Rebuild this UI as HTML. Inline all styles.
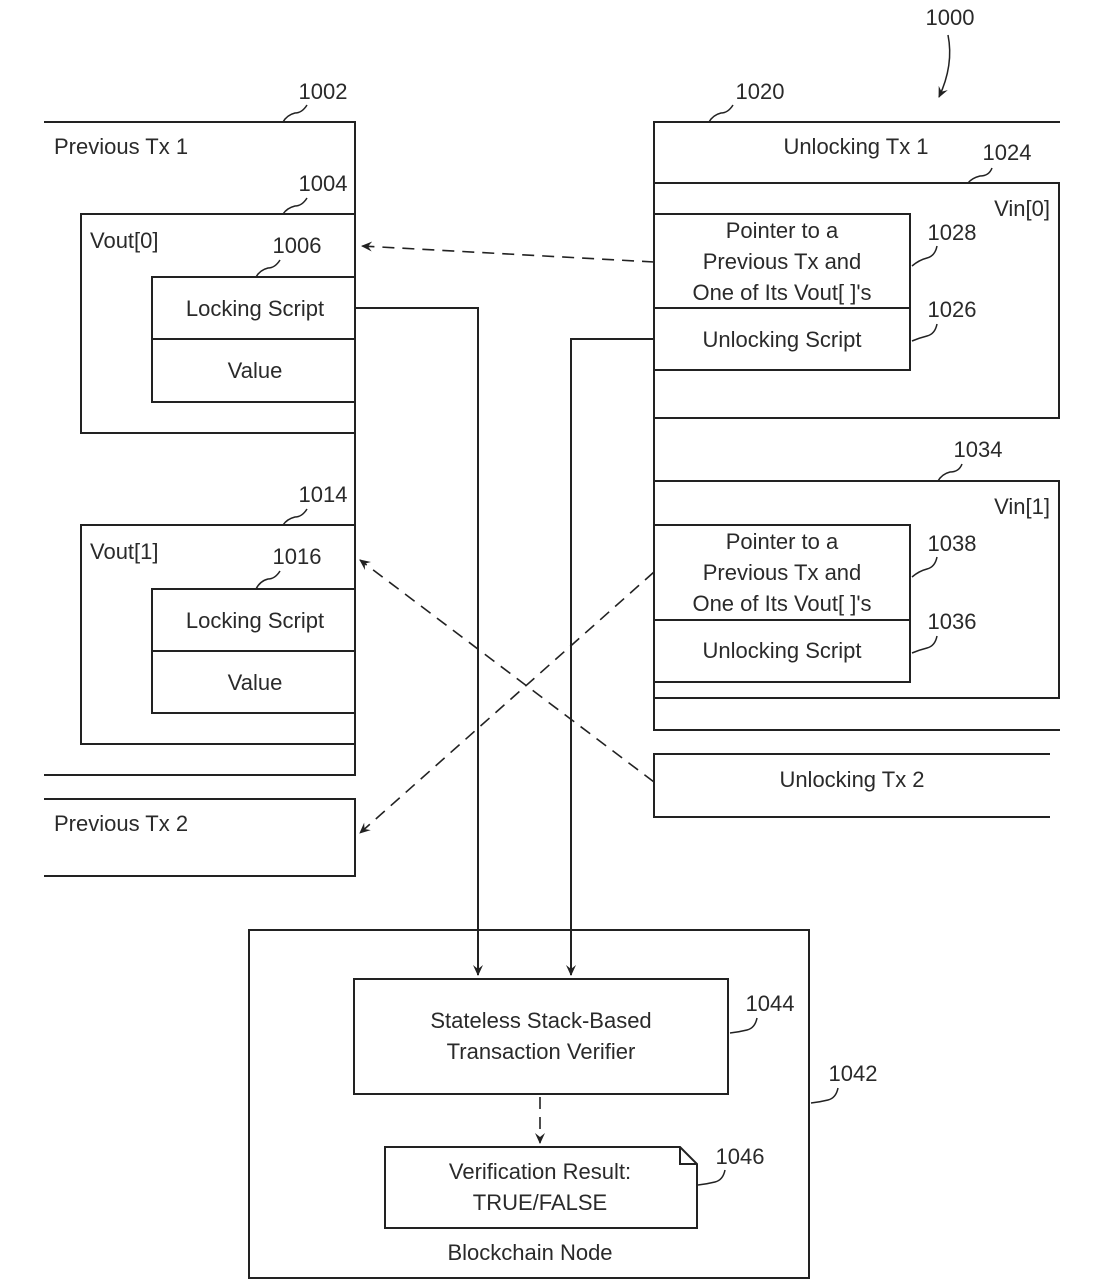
<!DOCTYPE html>
<html><head><meta charset="utf-8"><style>
body{margin:0;background:#fff}
svg{display:block}
text{font-family:"Liberation Sans",sans-serif;font-size:22px;fill:#2a2a2a}
</style></head><body>
<svg width="1106" height="1286" viewBox="0 0 1106 1286" xmlns="http://www.w3.org/2000/svg">
<defs>
<marker id="a" markerWidth="12" markerHeight="12" refX="10" refY="6" orient="auto" markerUnits="userSpaceOnUse">
<path d="M0,1 L11,6 L0,11 L4,6 Z" fill="#222"/></marker>
</defs>
<g fill="none" stroke="#222" stroke-width="2">
<!-- Previous Tx 1 -->
<path d="M44,122 H355 V775 H44"/>
<rect x="81" y="214" width="274" height="219"/>
<rect x="152" y="277" width="203" height="125"/><path d="M152,339 H355"/>
<rect x="81" y="525" width="274" height="219"/>
<rect x="152" y="589" width="203" height="124"/><path d="M152,651 H355"/>
<path d="M44,799 H355 V876 H44"/>
<!-- Unlocking Tx 1 -->
<path d="M1060,122 H654 V730 H1060"/>
<path d="M654,183 H1059 V418 H654"/>
<rect x="654" y="214" width="256" height="156"/><path d="M654,308 H910"/>
<path d="M654,481 H1059 V698 H654"/>
<rect x="654" y="525" width="256" height="157"/><path d="M654,620 H910"/>
<path d="M1050,754 H654 V817 H1050"/>
<!-- Node -->
<rect x="249" y="930" width="560" height="348"/>
<rect x="354" y="979" width="374" height="115"/>
<path d="M385,1147 H680 L697,1164 V1228 H385 Z M680,1147 V1164 H697"/>
<!-- solid connectors -->
<path d="M355,308 H478 V975" marker-end="url(#a)"/>
<path d="M654,339 H571 V975" marker-end="url(#a)"/>
<!-- dashed connectors -->
<g stroke-dasharray="12,8" stroke-width="1.6">
<path d="M654,262 L362,246" marker-end="url(#a)"/>
<path d="M654,572 L360,833" marker-end="url(#a)"/>
<path d="M654,782 L360,560" marker-end="url(#a)"/>
<path d="M540,1097 V1143" marker-end="url(#a)"/>
</g>
<!-- leader squiggles -->
<g stroke-width="1.5">
<path d="M307,105 q-5,8 -12,8 q-8,2 -12,9"/>
<path d="M307,198 q-5,8 -12,8 q-8,2 -12,8"/>
<path d="M280,260 q-5,8 -12,8 q-8,2 -12,9"/>
<path d="M307,509 q-5,8 -12,8 q-8,2 -12,8"/>
<path d="M280,571 q-5,8 -12,8 q-8,2 -12,10"/>
<path d="M733,105 q-5,8 -12,8 q-8,2 -12,9"/>
<path d="M992,168 q-3,8 -12,8 q-8,2 -12,7"/>
<path d="M937,246 q-2,10 -10,12 q-8,2 -15,8"/>
<path d="M937,324 q-2,10 -10,12 q-8,2 -15,5"/>
<path d="M962,464 q-3,8 -12,8 q-8,2 -12,9"/>
<path d="M937,557 q-2,10 -10,12 q-8,2 -15,8"/>
<path d="M937,636 q-2,10 -10,12 q-8,2 -15,5"/>
<path d="M757,1018 q-2,10 -10,12 q-8,2 -17,3"/>
<path d="M838,1088 q-2,10 -10,12 q-8,2 -17,3"/>
<path d="M725,1170 q-2,10 -10,12 q-8,2 -17,3"/>
<path d="M948,35 q6,30 -9,62" marker-end="url(#a)"/>
</g>
</g>
<g>
<text x="950" y="25" text-anchor="middle">1000</text>
<text x="323" y="99" text-anchor="middle">1002</text>
<text x="54" y="154">Previous Tx 1</text>
<text x="323" y="191" text-anchor="middle">1004</text>
<text x="90" y="248">Vout[0]</text>
<text x="297" y="253" text-anchor="middle">1006</text>
<text x="255" y="316" text-anchor="middle">Locking Script</text>
<text x="255" y="378" text-anchor="middle">Value</text>
<text x="323" y="502" text-anchor="middle">1014</text>
<text x="90" y="559">Vout[1]</text>
<text x="297" y="564" text-anchor="middle">1016</text>
<text x="255" y="628" text-anchor="middle">Locking Script</text>
<text x="255" y="690" text-anchor="middle">Value</text>
<text x="54" y="831">Previous Tx 2</text>
<text x="760" y="99" text-anchor="middle">1020</text>
<text x="856" y="154" text-anchor="middle">Unlocking Tx 1</text>
<text x="1007" y="160" text-anchor="middle">1024</text>
<text x="1050" y="216" text-anchor="end">Vin[0]</text>
<text x="782" y="238" text-anchor="middle">Pointer to a</text>
<text x="782" y="269" text-anchor="middle">Previous Tx and</text>
<text x="782" y="300" text-anchor="middle">One of Its Vout[ ]'s</text>
<text x="782" y="347" text-anchor="middle">Unlocking Script</text>
<text x="952" y="240" text-anchor="middle">1028</text>
<text x="952" y="317" text-anchor="middle">1026</text>
<text x="978" y="457" text-anchor="middle">1034</text>
<text x="1050" y="514" text-anchor="end">Vin[1]</text>
<text x="782" y="549" text-anchor="middle">Pointer to a</text>
<text x="782" y="580" text-anchor="middle">Previous Tx and</text>
<text x="782" y="611" text-anchor="middle">One of Its Vout[ ]'s</text>
<text x="782" y="658" text-anchor="middle">Unlocking Script</text>
<text x="952" y="551" text-anchor="middle">1038</text>
<text x="952" y="629" text-anchor="middle">1036</text>
<text x="852" y="787" text-anchor="middle">Unlocking Tx 2</text>
<text x="541" y="1028" text-anchor="middle">Stateless Stack-Based</text>
<text x="541" y="1059" text-anchor="middle">Transaction Verifier</text>
<text x="770" y="1011" text-anchor="middle">1044</text>
<text x="853" y="1081" text-anchor="middle">1042</text>
<text x="540" y="1179" text-anchor="middle">Verification Result:</text>
<text x="540" y="1210" text-anchor="middle">TRUE/FALSE</text>
<text x="740" y="1164" text-anchor="middle">1046</text>
<text x="530" y="1260" text-anchor="middle">Blockchain Node</text>
</g>
</svg>
</body></html>
